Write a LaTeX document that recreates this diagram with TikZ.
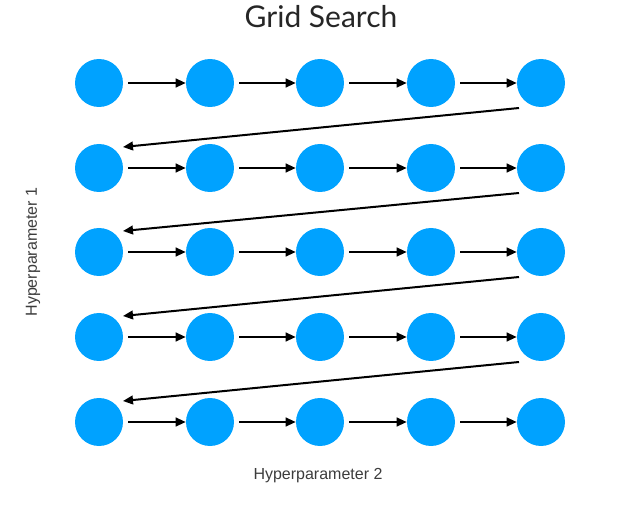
\documentclass[tikz,border=0pt]{standalone}
\usepackage{fontspec}
\setmainfont{Liberation Sans}
\newfontfamily\titlefont{Lato}
\usetikzlibrary{arrows.meta,calc}
\definecolor{dotblue}{RGB}{0,162,255}
\definecolor{labelgrey}{RGB}{60,60,60}
\begin{document}
\begin{tikzpicture}[x=0.75pt,y=-0.75pt,
  dot/.style={circle,fill=dotblue,draw=none,minimum size=36pt,inner sep=0pt},
  conn/.style={line width=1.5pt,-{Triangle[length=7.5pt,width=6.5pt]}},
  rowarrow/.style={conn,shorten <=3.75pt},
  lbl/.style={font=\fontsize{12}{14}\selectfont,text=labelgrey}]
\useasboundingbox (0,0) rectangle (619,510);
\node[font=\titlefont\fontsize{22.5}{26}\selectfont,text=black!85] (title) at (321,17) {Grid Search};
\foreach \r/\y in {1/83,2/168,3/252,4/337,5/422}{
  \foreach \c/\x in {1/99,2/210,3/320,4/431,5/541}{
    \node[dot] (n\r\c) at (\x,\y) {};
  }
}
\foreach \r in {1,...,5}{
  \foreach \c [evaluate=\c as \d using int(\c+1)] in {1,...,4}{
    \draw[rowarrow] (n\r\c) -- (n\r\d);
  }
}
\foreach \r [evaluate=\r as \s using int(\r+1)] in {1,...,4}{
  \draw[conn] ($(n\r5)+(-22,25)$) -- ($(n\s1)+(24,-21)$);
}
\node[lbl] (hp2) at (318,476) {Hyperparameter 2};
\node[lbl,rotate=90] (hp1) at (33,252) {Hyperparameter 1};
\end{tikzpicture}
\end{document}
